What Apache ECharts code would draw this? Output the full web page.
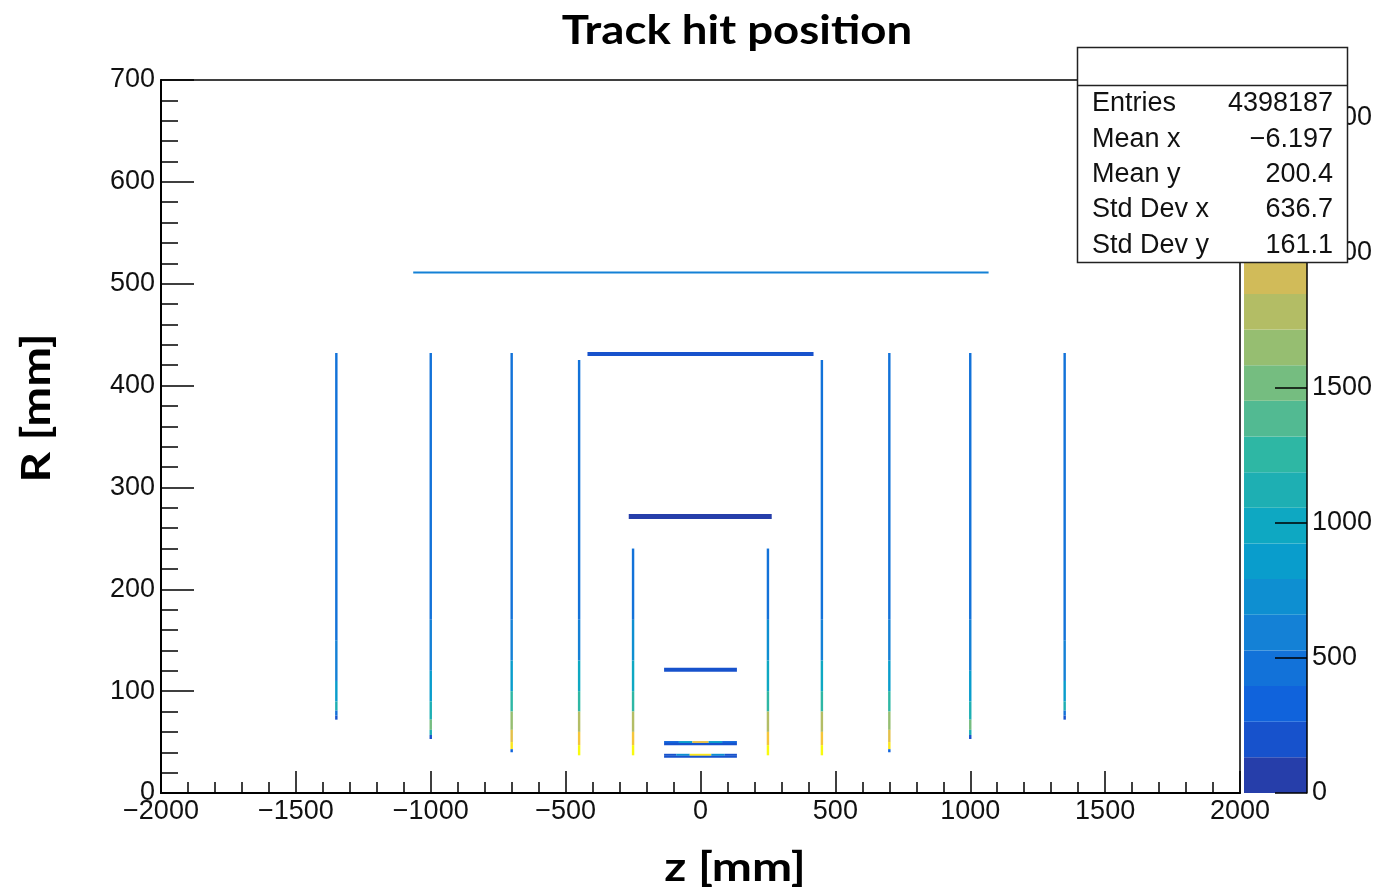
<!DOCTYPE html>
<html>
<head>
<meta charset="utf-8">
<title>Track hit position</title>
<script src="https://cdn.jsdelivr.net/npm/echarts@6/dist/echarts.min.js"></script>
<style>
  html, body { margin: 0; padding: 0; background: #fff; }
  #chart { width: 1378px; height: 890px; }
</style>
</head>
<body>
<div id="chart"></div>
<script>
// 坐标轴范围
const zRange = [-2000, 2000];
const rRange = [0, 700];
const hitsMax = 2640;
const nLevels = 20;

// 统计框
const statsLabels = ['Entries', 'Mean x', 'Mean y', 'Std Dev x', 'Std Dev y'];
const statsValues = ['4398187', '\u22126.197', '200.4', '636.7', '161.1'];

// 端盖盘: z 位置, 以及沿 R 的计数 [R起, R止, 计数]
const diskZ = [-1350, -1000, -700, -450, -250, 250, 450, 700, 1000, 1350];
const disk1350 = [[150, 432, 420], [110, 150, 560], [90, 110, 800], [81, 90, 1150], [76, 81, 520], [72, 76, 150]];
const disk1000 = [[170, 432, 420], [120, 170, 600], [90, 120, 850], [72, 90, 1100], [62, 72, 1500], [57, 62, 1150], [53, 57, 200]];
const disk700 = [[170, 432, 420], [130, 170, 620], [100, 130, 900], [80, 100, 1250], [62, 80, 1650], [50, 62, 2100], [43, 50, 2500], [40, 43, 300]];
const disk450 = [[170, 425, 420], [130, 170, 640], [100, 130, 950], [80, 100, 1300], [60, 80, 1750], [47, 60, 2200], [37, 47, 2600]];
const disk250 = [[170, 240, 480], [130, 170, 680], [100, 130, 950], [80, 100, 1300], [60, 80, 1750], [47, 60, 2200], [37, 47, 2600]];
const diskProfiles = [disk1350, disk1000, disk700, disk450, disk250, disk250, disk450, disk700, disk1000, disk1350];

// 桶部层: [z起, z止, R起, R止, 计数]
const barrel510 = [[-1065, 1068, 510, 512, 560]];
const barrel430 = [[-419, 419, 429, 433, 180]];
const barrel272 = [[-266, 264, 269, 274, 120]];
const barrel120 = [[-135, 135, 119, 123, 140]];
const barrel49 = [
    [-135, -80, 49, 51, 300], [-80, -30, 49, 51, 900], [-30, 30, 49, 51, 2000], [30, 80, 49, 51, 900], [80, 135, 49, 51, 300],
    [-135, 135, 47, 49, 150]
];
const barrel36 = [
    [-135, -90, 36.5, 38.5, 250], [-90, -40, 36.5, 38.5, 700], [-40, 40, 36.5, 38.5, 2500], [40, 90, 36.5, 38.5, 700], [90, 135, 36.5, 38.5, 250],
    [-135, 135, 34.5, 36.5, 160]
];

// kBird 调色板
const birdStops = [
    [0.2082, 0.1664, 0.5293], [0.0592, 0.3599, 0.8684], [0.0780, 0.5041, 0.8385],
    [0.0232, 0.6419, 0.7914], [0.1802, 0.7178, 0.6425], [0.5301, 0.7492, 0.4662],
    [0.8186, 0.7328, 0.3499], [0.9956, 0.7862, 0.1968], [0.9764, 0.9832, 0.0539]
];
function birdColor(t) {
    const pos = t * (birdStops.length - 1);
    const i = Math.min(Math.floor(pos), birdStops.length - 2);
    const f = pos - i;
    const c = birdStops[i].map((v, k) => Math.round(255 * (v + (birdStops[i + 1][k] - v) * f)));
    return `rgb(${c[0]},${c[1]},${c[2]})`;
}

const step = hitsMax / nLevels;
const pieces = [];
const bandData = [];
for (let i = 0; i < nLevels; i++) {
    pieces.push({ gte: i * step, lt: (i + 1) * step, color: birdColor((i + 1) / nLevels) });
    bandData.push([0, 1, i * step, (i + 1) * step, (i + 0.5) * step]);
}
pieces[nLevels - 1].lte = hitsMax + 1e6;
delete pieces[nLevels - 1].lt;

// 组装数据
const diskHalfWidth = 4.5;
const cells = [];
diskZ.forEach((z, i) => {
    diskProfiles[i].forEach(p => cells.push([z - diskHalfWidth, z + diskHalfWidth, p[0], p[1], p[2]]));
});
[barrel510, barrel430, barrel272, barrel120, barrel49, barrel36].forEach(layer => {
    layer.forEach(c => cells.push(c));
});

function renderCell(params, api) {
    const tl = api.coord([api.value(0), api.value(3)]);
    const br = api.coord([api.value(1), api.value(2)]);
    return {
        type: 'rect',
        shape: {
            x: tl[0],
            y: tl[1],
            width: Math.max(br[0] - tl[0], 2),
            height: Math.max(br[1] - tl[1], 1.5)
        },
        style: { fill: api.visual('color') }
    };
}

const numFont = 'Liberation Sans, Arial, sans-serif';
const titleFont = 'Lato, Open Sans, sans-serif';
const minus = v => String(v).replace('-', '\u2212');

const chart = echarts.init(document.getElementById('chart'));

const statsGraphics = [
    {
        type: 'rect', z: 100,
        shape: { x: 1077.5, y: 47.5, width: 270, height: 215 },
        style: { fill: '#fff', stroke: '#222', lineWidth: 1.5 }
    },
    {
        type: 'line', z: 101,
        shape: { x1: 1077.5, y1: 85.5, x2: 1347.5, y2: 85.5 },
        style: { stroke: '#222', lineWidth: 1.5 }
    }
];
statsLabels.forEach((label, i) => {
    const y = 104 + i * 35.3;
    statsGraphics.push({
        type: 'text', z: 102, x: 1092, y: y,
        style: { text: label, font: `27px ${numFont}`, fill: '#111', verticalAlign: 'middle', align: 'left' }
    });
    statsGraphics.push({
        type: 'text', z: 102, x: 1333, y: y,
        style: { text: statsValues[i], font: `27px ${numFont}`, fill: '#111', verticalAlign: 'middle', align: 'right' }
    });
});

const option = {
    backgroundColor: '#fff',
    animation: false,
    grid: [
        { left: 161, right: 138, top: 80, bottom: 97, show: true, borderColor: '#000', borderWidth: 1.5, backgroundColor: 'transparent' },
        { left: 1244, width: 63, top: 80, bottom: 97 }
    ],
    xAxis: [
        {
            type: 'value', gridIndex: 0, min: zRange[0], max: zRange[1], interval: 500,
            axisLine: { show: true, onZero: false, lineStyle: { color: '#000', width: 2 } },
            axisTick: { show: true, inside: true, length: 22, lineStyle: { color: '#000', width: 1.5 } },
            minorTick: { show: true, splitNumber: 5, length: 11, lineStyle: { color: '#000', width: 1.5 } },
            splitLine: { show: false },
            axisLabel: { color: '#111', fontSize: 27, fontFamily: numFont, margin: 5, formatter: minus }
        },
        { type: 'value', gridIndex: 1, min: 0, max: 1, show: false }
    ],
    yAxis: [
        {
            type: 'value', gridIndex: 0, min: rRange[0], max: rRange[1], interval: 100,
            axisLine: { show: true, onZero: false, lineStyle: { color: '#000', width: 2 } },
            axisTick: { show: true, inside: true, length: 33, lineStyle: { color: '#000', width: 1.5 } },
            minorTick: { show: true, splitNumber: 5, length: 17, lineStyle: { color: '#000', width: 1.5 } },
            splitLine: { show: false },
            axisLabel: { color: '#111', fontSize: 27, fontFamily: numFont, margin: 6 }
        },
        {
            type: 'value', gridIndex: 1, position: 'right', min: 0, max: hitsMax, interval: 500, z: 10,
            axisLine: { show: true, onZero: false, lineStyle: { color: '#000', width: 1.5 } },
            axisTick: { show: true, inside: true, length: 32, lineStyle: { color: '#000', width: 1.5 } },
            splitLine: { show: false },
            axisLabel: { color: '#111', fontSize: 27, fontFamily: numFont, margin: 5, showMaxLabel: false, formatter: v => String(v) }
        }
    ],
    visualMap: {
        type: 'piecewise', show: false, dimension: 4, seriesIndex: [0, 1], pieces: pieces
    },
    series: [
        {
            type: 'custom', xAxisIndex: 0, yAxisIndex: 0, clip: true,
            renderItem: renderCell, data: cells
        },
        {
            type: 'custom', xAxisIndex: 1, yAxisIndex: 1, z: 1,
            renderItem: renderCell, data: bandData
        }
    ],
    graphic: [
        {
            type: 'text', x: 737, y: 31, scaleX: 1.14,
            style: { text: 'Track hit position', font: `bold 40px ${titleFont}`, fill: '#000', align: 'center', verticalAlign: 'middle' }
        },
        {
            type: 'text', x: 37, y: 408, rotation: Math.PI / 2, scaleX: 1.19,
            style: { text: 'R [mm]', font: `bold 40px ${titleFont}`, fill: '#000', align: 'center', verticalAlign: 'middle' }
        },
        {
            type: 'text', x: 735, y: 868, scaleX: 1.2,
            style: { text: 'z [mm]', font: `bold 40px ${titleFont}`, fill: '#000', align: 'center', verticalAlign: 'middle' }
        }
    ].concat(statsGraphics)
};

chart.setOption(option);
window.addEventListener('resize', () => chart.resize());
</script>
</body>
</html>
